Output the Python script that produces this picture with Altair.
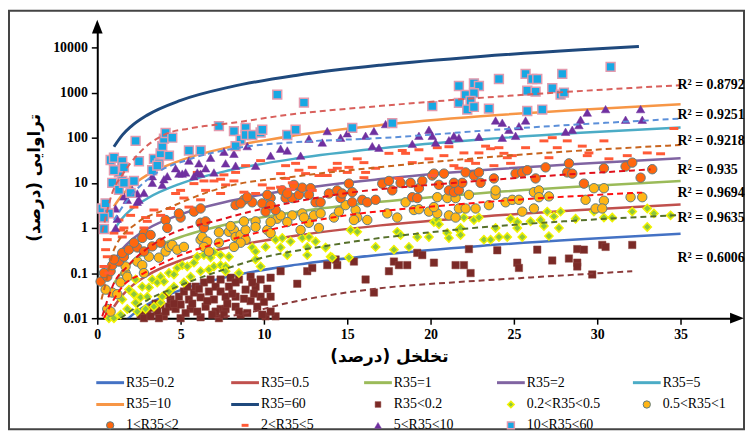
import altair as alt
import pandas as pd

# ---------------- model curves (R35 = const) ----------------
curve_x = [1, 1.5, 2, 3, 5, 8, 12, 17, 23, 29, 35]
r35_0_2 = [0.004, 0.0072, 0.011, 0.020, 0.042, 0.085, 0.154, 0.256, 0.40, 0.56, 0.74]
r35_0_5 = [0.018, 0.032, 0.049, 0.089, 0.19, 0.38, 0.68, 1.14, 1.78, 2.5, 3.3]
r35_1 = [0.059, 0.107, 0.164, 0.30, 0.63, 1.26, 2.28, 3.8, 5.9, 8.3, 11]
r35_2 = [0.19, 0.34, 0.52, 0.95, 2.0, 4.0, 7.3, 12.1, 18.9, 26.6, 35]
r35_5 = [0.9, 1.64, 2.5, 4.5, 9.6, 19.2, 34.9, 58, 91, 128, 168]
r35_10 = [3.0, 5.4, 8.2, 14.9, 31.5, 63, 114, 190, 297, 417, 550]
r35_60_x = [1, 1.5, 2, 3, 5, 8, 12, 17, 23, 29, 32.5]
r35_60 = [63, 114, 174, 316, 670, 1337, 2430, 4050, 6320, 8880, 10500]

# ---------------- dashed trend lines of each group ----------------
trend_lt02_x = [7, 9, 11, 14.5, 17.4, 21.3, 26, 32.1]
trend_lt02_y = [0.01, 0.013, 0.02, 0.035, 0.048, 0.062, 0.08, 0.11]
trend_02_05_x = [1.4, 3, 4.8, 7.6, 9.5, 14.1, 21.3, 28, 35]
trend_02_05_y = [0.01, 0.025, 0.05, 0.12, 0.2, 0.42, 0.9, 1.4, 1.93]
trend_05_1_x = [0.4, 1.5, 2.8, 5, 7.6, 14.1, 21.5, 32.7]
trend_05_1_y = [0.01, 0.05, 0.1, 0.25, 0.5, 1.7, 3.3, 6.1]
trend_1_2_x = [0.3, 1.0, 1.8, 3.8, 7.6, 14.4, 21.5, 33.2]
trend_1_2_y = [0.011, 0.06, 0.14, 0.55, 1.6, 5.5, 10, 19.8]
trend_2_5_x = [0.25, 0.55, 1, 2.4, 4, 7.6, 12, 16.8, 25, 35]
trend_2_5_y = [0.026, 0.07, 0.33, 1.3, 2.5, 8, 14, 22, 41, 69]
trend_5_10_x = [1, 1.7, 3.5, 5.5, 8.5, 12, 17, 25, 35]
trend_5_10_y = [1.5, 3.7, 16, 33, 60, 80, 98, 160, 265]
trend_10_60_x = [0.3, 0.9, 1.5, 2.5, 4.1, 5.5, 8, 11.4, 17.4, 25.7, 35]
trend_10_60_y = [0.8, 6, 15, 45, 120, 160, 210, 320, 520, 900, 1460]

r2_labels = ["R² = 0.8792", "R² = 0.9251", "R² = 0.9218", "R² = 0.935",
             "R² = 0.9694", "R² = 0.9635", "R² = 0.6006"]
r2_at = [1460, 320, 86, 19, 5.9, 1.66, 0.22]

# ---------------- measured points (porosity %, permeability) ----------------
pts_lt02 = [(2.6,0.012),(3.0,0.014),(2.8,0.01),(3.3,0.017),(3.6,0.014),(3.8,0.02),(4.0,0.011),(4.3,0.018),
 (4.4,0.026),(4.7,0.016),(4.9,0.03),(5.0,0.02),(5.2,0.039),(5.5,0.026),(5.6,0.016),(5.8,0.037),(5.9,0.05),
 (6.2,0.029),(6.4,0.062),(6.5,0.018),(6.7,0.039),(6.8,0.072),(7.0,0.026),(7.1,0.05),(7.4,0.016),(7.4,0.039),
 (7.3,0.01),(6.2,0.0105),(5.0,0.01),(3.7,0.01),(7.4,0.072),(7.9,0.05),(8.5,0.072),(8.9,0.043),(8.3,0.03),
 (9.2,0.083),(9.5,0.05),(9.2,0.024),(9.6,0.018),(9.8,0.03),(10.4,0.03),(10.7,0.011),(10.1,0.011),(8.6,0.012),
 (7.7,0.016),(11.0,0.11),(12.0,0.058),(12.6,0.11),(13.8,0.15),(14.4,0.15),(16.1,0.072),(16.6,0.037),
 (10.4,0.079),(7.7,0.03),(8.0,0.079),(8.3,0.062),(8.3,0.018),(8.5,0.014),(7.6,0.012),(7.1,0.014),(9.3,0.062),
 (9.8,0.072),(10.4,0.014),(12.9,0.13),(3.2,0.011),(3.5,0.021),(4.1,0.014),(4.6,0.021),(5.3,0.013),(5.7,0.021),
 (6.0,0.014),(6.6,0.024),(6.9,0.012),(7.8,0.021),(8.1,0.035),(8.8,0.027),(9.0,0.013),(9.4,0.035),(10.0,0.023),
 (10.2,0.045),(9.9,0.012),(5.4,0.05),(6.1,0.045),(4.2,0.033),(14.3,0.2),(15.4,0.18),(17.5,0.11),(17.8,0.18),
 (18.1,0.15),(18.6,0.15),(19.2,0.28),(19.5,0.25),(20.2,0.17),(21.5,0.15),(22.0,0.15),(22.4,0.1),(22.3,0.34),
 (24.0,0.32),(25.2,0.17),(25.3,0.13),(26.4,0.33),(27.3,0.19),(28.3,0.21),(28.8,0.34),(28.8,0.17),(28.8,0.14),
 (29.2,0.33),(30.3,0.42),(30.5,0.38),(32.1,0.42),(29.7,0.093)]

pts_02_05 = [(0.7,0.01),(1.4,0.012),(1.8,0.016),(2.3,0.022),(2.2,0.034),(2.6,0.029),(3.0,0.03),(2.7,0.05),
 (3.1,0.048),(3.3,0.072),(3.6,0.062),(3.8,0.083),(4.0,0.065),(4.3,0.1),(4.6,0.093),(4.8,0.13),(5.1,0.15),
 (5.4,0.14),(5.8,0.17),(6.0,0.23),(6.4,0.25),(6.8,0.22),(7.0,0.29),(7.4,0.25),(3.4,0.018),(3.8,0.022),
 (2.9,0.016),(2.4,0.014),(5.2,0.062),(4.6,0.05),(5.6,0.083),(6.2,0.11),(6.7,0.12),(7.0,0.14),(7.4,0.15),
 (1.0,0.01),(3.9,0.03),(4.3,0.039),(1.5,0.026),(1.9,0.043),(2.3,0.072),(7.9,0.23),(7.7,0.14),(7.7,0.11),
 (8.5,0.1),(9.3,0.37),(9.5,0.3),(10.1,0.38),(9.5,0.2),(9.8,0.14),(10.7,0.55),(11.1,0.6),(11.0,0.37),
 (11.4,0.25),(11.6,0.5),(12.3,0.6),(12.7,0.63),(13.1,0.5),(12.6,0.38),(12.6,0.25),(13.7,0.37),(14.0,0.23),
 (15.2,0.9),(15.6,0.82),(16.7,0.38),(17.8,0.33),(18.0,0.82),(18.2,0.7),(18.7,0.38),(19.2,0.63),(19.9,0.63),
 (20.2,1.35),(20.4,1.5),(20.5,1.2),(21.0,0.77),(21.1,0.6),(21.7,0.9),(15.1,0.22),(14.1,0.22),(22.0,1.7),
 (21.8,1.0),(21.8,0.7),(22.6,1.5),(22.9,1.7),(23.2,0.55),(23.6,0.55),(23.9,1.0),(24.1,0.63),(24.6,0.63),
 (24.8,1.6),(25.2,1.35),(25.2,1.0),(25.5,0.63),(26.0,1.4),(26.6,1.5),(26.8,1.1),(27.0,2.3),(27.4,1.8),
 (27.1,0.66),(27.7,1.0),(27.8,2.3),(28.7,1.6),(29.8,2.3),(30.4,1.7),(30.9,1.7),(32.1,2.3),(33.0,2.7),
 (33.0,1.05),(33.4,2.1),(34.4,1.9)]

pts_05_1 = [(0.6,0.016),(0.8,0.014),(0.9,0.037),(1.2,0.034),(1.4,0.062),(1.7,0.1),(1.8,0.083),(1.7,0.14),
 (2.4,0.18),(2.7,0.15),(2.8,0.1),(3.1,0.23),(3.7,0.22),(4.1,0.3),(4.3,0.38),(4.5,0.42),(4.8,0.33),(5.2,0.38),
 (6.2,0.55),(6.3,0.63),(6.6,0.5),(6.4,0.38),(6.7,0.3),(7.3,0.47),(0.5,0.043),(7.9,0.82),(8.2,0.9),(8.3,0.63),
 (8.6,0.7),(8.9,0.55),(8.6,0.47),(8.2,0.38),(8.9,0.9),(8.0,1.1),(8.8,1.4),(9.5,1.4),(10.2,0.9),(10.4,0.77),
 (10.8,1.6),(11.0,1.9),(11.7,1.9),(12.3,2.1),(12.2,0.9),(12.7,1.3),(13.0,1.9),(13.3,1.0),(14.2,1.7),
 (14.5,2.3),(10.4,1.35),(14.9,3.2),(15.5,2.5),(15.6,1.7),(16.2,1.5),(17.4,2.1),(18.0,1.7),(18.5,3.7),
 (19.0,2.5),(19.3,2.6),(19.9,2.3),(20.4,2.1),(20.4,4.8),(21.0,4.6),(21.5,4.6),(21.1,1.9),(21.5,1.7),
 (21.7,2.7),(20.2,2.9),(22.1,2.7),(22.7,2.7),(22.3,5.4),(23.5,3.2),(23.9,5.4),(23.9,6.8),(24.5,3.7),
 (24.9,4.2),(25.3,4.2),(25.5,2.3),(26.2,2.7),(26.2,6.2),(26.5,6.8),(26.5,4.8),(27.1,5.0),(29.3,4.2),
 (29.8,7.6),(30.4,7.6),(30.4,4.0),(29.9,2.7),(30.3,2.7),(32.0,4.8),(32.7,4.8),(7.3,0.8),(9.5,1.05),
 (11.4,1.35),(12.4,1.7),(13.4,2.1),(15.4,1.5)]

pts_1_2 = [(0.2,0.065),(0.6,0.083),(0.8,0.11),(0.9,0.15),(1.3,0.18),(1.6,0.23),(1.5,0.28),(1.9,0.33),
 (2.4,0.37),(2.2,0.47),(2.8,0.3),(3.3,0.39),(2.8,0.77),(4.1,1.5),(4.2,1.0),(5.0,1.7),(5.8,2.3),(6.2,2.7),
 (6.2,1.3),(6.4,1.0),(6.5,1.4),(3.8,0.47),(8.3,3.2),(8.8,4.2),(9.3,3.7),(9.9,3.5),(10.4,4.6),(11.1,6.8),
 (11.3,4.6),(11.7,4.6),(12.1,5.4),(12.3,7.8),(12.8,7.6),(12.7,5.4),(13.1,3.7),(13.4,3.7),(11.8,9),(10.1,2.3),
 (10.7,2.5),(13.9,5.8),(14.4,6.8),(14.6,4.6),(8.6,3.5),(14.7,5.8),(15.1,9.6),(15.3,3.7),(15.9,4.2),
 (16.2,3.7),(16.7,4.2),(17.1,9.6),(17.5,11),(17.7,6.8),(18.2,10),(18.8,10),(18.9,4.8),(19.2,4.6),(19.3,7.6),
 (19.5,11),(20.1,14.5),(20.2,16),(20.8,16),(20.5,9),(21.1,6.8),(21.4,6.2),(21.7,6.8),(15.3,6.2),(22.1,17),
 (22.6,14.5),(22.9,17),(21.9,10),(23.0,10),(23.8,12.5),(25.1,16),(25.5,17),(25.8,19),(26.3,12.5),(26.9,22),
 (28.2,17),(28.3,27),(28.5,16),(29.2,9.6),(30.4,21),(31.7,23),(32.1,28),(32.6,13),(33.3,20),(21.4,10),
 (4.9,2.1),(9.0,4.8),(10.2,5.4),(11.4,5.8),(10.4,3.2),(0.4,0.1),(1.0,0.2),(2.7,0.6),(3.2,0.7)]

pts_2_5 = [(4.7,5.8),(5.0,6.8),(5.2,4.6),(5.8,9.6),(6.2,4.2),(6.5,6.8),(7.0,11),(6.4,11),(5.5,2.9),(3.0,1.4),
 (2.8,1.0),(3.4,2.5),(2.2,2.9),(1.6,1.0),(1.4,0.9),(1.0,0.77),(1.5,0.63),(0.6,0.55),(0.5,0.33),(0.6,0.23),
 (0.4,0.14),(0.7,0.1),(2.0,1.9),(3.8,1.9),(4.4,2.7),(6.0,17),(7.4,12),(7.4,5.8),(1.3,1.5),(1.9,0.77),
 (2.9,1.7),(7.6,15),(8.2,11),(7.7,9),(8.8,6.2),(9.5,5.8),(9.9,9),(10.4,7.6),(11.0,8),(11.3,12.5),(11.7,10),
 (12.1,19),(12.5,16),(12.9,22),(13.3,14.5),(13.8,14.5),(14.1,19),(14.4,27),(11.9,27),(11.3,24),(11.0,16),
 (9.8,31),(8.9,24),(8.3,17),(11.6,7.2),(12.9,6.8),(15.6,34),(16.0,28),(15.1,22),(14.4,21),(15.0,17),
 (16.1,17),(16.7,21),(16.0,13),(17.5,45),(18.3,52),(18.5,45),(18.9,28),(19.9,34),(20.8,40),(21.4,24),
 (20.1,14.5),(18.1,12.5),(19.3,54),(20.4,60),(21.1,63),(22.0,46),(22.9,46),(23.3,65),(23.6,57),(24.1,60),
 (24.6,36),(24.9,40),(25.7,60),(26.8,85),(27.3,100),(27.1,36),(28.2,85),(29.1,65),(29.5,46),(30.4,85),
 (30.7,34),(31.8,40),(33.0,46),(33.8,44),(34.6,160),(24.4,45),(27.6,60),(29.4,40),(22.3,31),(24.8,27),
 (23.8,24),(22.7,27),(21.7,21)]

pts_5_10 = [(3.3,14),(4.2,14),(4.7,21),(5.5,31),(5.1,16),(5.3,17),(6.0,17),(6.1,27),(6.8,36),(7.0,17),
 (7.6,49),(8.2,44),(8.3,24),(7.7,27),(9.0,65),(9.5,24),(10.4,40),(11.0,57),(11.4,52),(12.2,40),(12.7,95),
 (13.5,78),(13.8,140),(14.6,100),(15.0,125),(16.1,110),(16.5,65),(16.9,60),(16.6,140),(17.3,200),(3.3,10),
 (2.8,6),(1.8,4.2),(2.4,3.8),(1.2,1.6),(1.1,1.0),(3.9,9),(4.0,12),(4.9,16),(5.8,14),(6.2,16),(6.5,21),
 (1.1,2.7),(1.6,5),(2.1,7),(2.5,4.2),(2.4,5.8),(18.9,73),(19.3,110),(19.9,150),(20.1,110),(20.3,78),
 (21.1,88),(21.4,110),(21.7,100),(22.9,105),(23.9,240),(24.3,215),(24.3,100),(24.7,150),(25.1,110),
 (25.3,180),(25.7,240),(28.1,135),(28.5,150),(28.9,190),(29.0,250),(29.4,360),(30.5,430),(31.7,250),
 (32.6,430),(32.7,250)]

pts_10_60 = [(0.8,32),(1.0,36),(1.5,30),(1.3,17),(1.6,22),(1.5,11),(2.3,85),(2.5,30),(3.3,19),(3.4,34),
 (3.7,27),(3.8,45),(3.9,65),(4.0,95),(4.1,127),(4.5,100),(4.3,40),(3.6,24),(5.5,52),(6.2,52),(7.3,180),
 (8.2,140),(8.6,90),(8.9,165),(8.9,115),(9.3,115),(9.8,130),(9.9,150),(8.3,65),(10.8,900),(12.4,600),
 (11.4,115),(11.9,150),(15.3,165),(0.3,2.7),(0.5,3.5),(0.7,2.1),(0.4,1.7),(0.4,0.95),(0.9,10),(1.0,19),
 (1.3,7),(1.6,10),(2.0,6),(2.2,11),(17.7,210),(20.1,500),(21.7,590),(21.7,1400),(22.1,890),(22.6,1600),
 (22.9,1400),(22.6,970),(22.4,650),(22.2,420),(22.6,480),(23.5,440),(24.1,2000),(25.7,2600),(26.1,2000),
 (26.4,2000),(25.8,1100),(26.3,1050),(25.8,390),(26.7,420),(27.3,1250),(27.9,2600),(27.8,900),
 (28.0,1000),(30.8,3700)]

x_ticks = [0, 5, 10, 15, 20, 25, 30, 35]
y_ticks = [0.01, 0.1, 1, 10, 100, 1000, 10000]

# ---------------- styles ----------------
W, H = 642, 291
RLM = "\u200f"
x_title = RLM + "تخلخل (درصد)" + RLM
y_title = RLM + "تراوایی (درصد)" + RLM

xscale = alt.Scale(domain=[0, 38.21], nice=False, zero=False)
yscale = alt.Scale(type="log", domain=[0.01, 24900], nice=False)

xaxis = alt.Axis(values=x_ticks, format="d", grid=False, domainColor="black", domainWidth=2,
                 tickColor="black", tickWidth=1.5, tickSize=6, labelFont="Liberation Serif",
                 labelFontSize=14, labelFontWeight="bold", labelColor="black", labelPadding=3,
                 labelFlush=False, labelOverlap=False, title=x_title, titleFont="DejaVu Sans",
                 titleFontSize=17, titleFontWeight="bold", titleColor="black", titleX=294, titleY=39,
                 titleBaseline="middle")
yaxis = alt.Axis(values=y_ticks, labelExpr="datum.value >= 1 ? format(datum.value, 'd') : format(datum.value, '~f')",
                 grid=False, domainColor="black", domainWidth=2, tickColor="black", tickWidth=1.5,
                 tickSize=6, labelFont="Liberation Serif", labelFontSize=14, labelFontWeight="bold",
                 labelColor="black", labelPadding=4, labelFlush=False, labelOverlap=False,
                 title=y_title, titleFont="DejaVu Sans", titleFontSize=17, titleFontWeight="bold",
                 titleColor="black", titleX=-63, titleY=149, titleBaseline="middle")

X = alt.X("x:Q", scale=xscale, axis=xaxis)
Y = alt.Y("y:Q", scale=yscale, axis=yaxis)

solid = [
    ("R35=0.2", curve_x, r35_0_2, "#4472C4", 2.5),
    ("R35=0.5", curve_x, r35_0_5, "#C0504D", 2.5),
    ("R35=1", curve_x, r35_1, "#9BBB59", 2.5),
    ("R35=2", curve_x, r35_2, "#8064A2", 2.5),
    ("R35=5", curve_x, r35_5, "#4BACC6", 2.5),
    ("R35=10", curve_x, r35_10, "#F79646", 2.5),
    ("R35=60", r35_60_x, r35_60, "#1F497D", 3),
]
dashed = [
    (trend_lt02_x, trend_lt02_y, "#8B3A3A"),
    (trend_02_05_x, trend_02_05_y, "#56702A"),
    (trend_05_1_x, trend_05_1_y, "#FF1010"),
    (trend_1_2_x, trend_1_2_y, "#E0101A"),
    (trend_2_5_x, trend_2_5_y, "#C8641E"),
    (trend_5_10_x, trend_5_10_y, "#5B8FD9"),
    (trend_10_60_x, trend_10_60_y, "#D9605C"),
]
groups = [
    ("R35<0.2", pts_lt02, dict(shape="square", filled=True, fill="#7B2A27", stroke="#8E4540", strokeWidth=0.5, size=56)),
    ("0.2<R35<0.5", pts_02_05, dict(shape="diamond", filled=True, fill="#8CC63F", stroke="#F2F200", strokeWidth=1.5, size=70)),
    ("0.5<R35<1", pts_05_1, dict(shape="circle", filled=True, fill="#FFB515", stroke="#5E7C82", strokeWidth=1, size=90)),
    ("1<R35<2", pts_1_2, dict(shape="circle", filled=True, fill="#FF660E", stroke="#5E7C82", strokeWidth=1, size=90)),
    ("2<R35<5", pts_2_5, dict(shape="M-1,0L1,0", filled=False, stroke="#FF5A36", strokeWidth=3, size=81, strokeCap="butt")),
    ("5<R35<10", pts_5_10, dict(shape="triangle-up", filled=True, fill="#7030A0", stroke="#7030A0", strokeWidth=0.5, size=75)),
    ("10<R35<60", pts_10_60, dict(shape="square", filled=True, fill="#17A8E3", stroke="#E39AAE", strokeWidth=1.5, size=80)),
]

dummy = pd.DataFrame({"a": [0]})
layers = []

# frame around the figure
layers.append(alt.Chart(dummy).mark_rect(fill="white", fillOpacity=0, stroke="#444444", strokeWidth=2).encode(
    x=alt.value(-89), x2=alt.value(652), y=alt.value(-19), y2=alt.value(403)))

for name, xs, ys, col, w in solid:
    df = pd.DataFrame({"x": xs, "y": ys})
    layers.append(alt.Chart(df).mark_line(color=col, strokeWidth=w, interpolate="monotone", clip=True).encode(x=X, y=Y))

for name, pts, st in groups:
    df = pd.DataFrame(pts, columns=["x", "y"])
    layers.append(alt.Chart(df).mark_point(opacity=1, **st).encode(x=X, y=Y))

for xs, ys, col in dashed:
    df = pd.DataFrame({"x": xs, "y": ys})
    layers.append(alt.Chart(df).mark_line(color=col, strokeWidth=2, strokeDash=[6, 4], interpolate="monotone", clip=True).encode(x=X, y=Y))

r2_df = pd.DataFrame({"label": r2_labels, "y": r2_at})
layers.append(alt.Chart(r2_df).mark_text(align="left", baseline="middle", font="Liberation Serif", fontSize=14,
                                          fontWeight="bold", color="black").encode(x=alt.value(585), y=Y, text="label:N"))

# axis arrows
layers.append(alt.Chart(dummy).mark_point(shape="M1.1,0L-0.45,0.6L-0.45,-0.6Z", filled=True, color="black", opacity=1, size=324).encode(
    x=alt.value(W), y=alt.value(H)))
layers.append(alt.Chart(dummy).mark_point(shape="M0,-1.1L0.6,0.45L-0.6,0.45Z", filled=True, color="black", opacity=1, size=324).encode(
    x=alt.value(0), y=alt.value(0)))

# legend (5 columns x 3 rows)
col_x = [-1, 135, 269, 403, 540]
row_y = [356, 378, 399]
entries = [(n, "line", c, w) for n, xs, ys, c, w in solid] + [(n, "point", st, None) for n, pts, st in groups]
for i, (label, kind, sty, w) in enumerate(entries):
    cx = col_x[i % 5]
    ry = row_y[i // 5]
    if kind == "line":
        layers.append(alt.Chart(dummy).mark_rule(color=sty, strokeWidth=3).encode(
            x=alt.value(cx), x2=alt.value(cx + 28), y=alt.value(ry)))
    else:
        s = dict(sty)
        s["size"] = s["size"] * 0.6
        layers.append(alt.Chart(dummy).mark_point(opacity=1, **s).encode(x=alt.value(cx + 14), y=alt.value(ry)))
    layers.append(alt.Chart(dummy).mark_text(align="left", baseline="middle", font="Liberation Serif", fontSize=14,
                                            color="black").encode(x=alt.value(cx + 30), y=alt.value(ry), text=alt.value(label)))

chart = alt.layer(*layers).properties(
    width=W, height=H,
    autosize=alt.AutoSizeParams(type="none"),
    padding={"left": 90, "top": 20, "right": 11, "bottom": 113},
).configure_view(stroke=None)

chart.save("out.html", embed_options={"renderer": "svg", "actions": False})
